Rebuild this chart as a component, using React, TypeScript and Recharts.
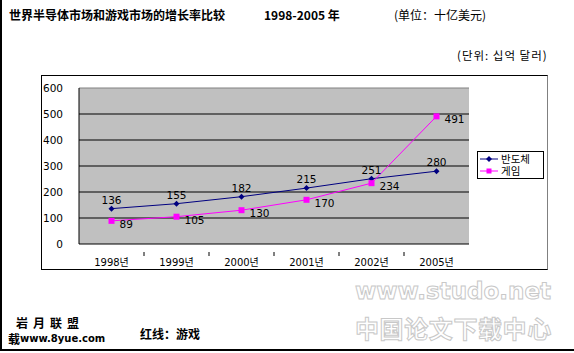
import { CartesianGrid, LabelList, Line, LineChart, ReferenceLine, XAxis, YAxis } from "recharts";

const years = ["1998년", "1999년", "2000년", "2001년", "2002년", "2005년"];
const semiconductor = [136, 155, 182, 215, 251, 280];
const game = [89, 105, 130, 170, 234, 491];
const yTicks = [0, 100, 200, 300, 400, 500, 600];

const data = years.map((year, i) => ({ year, semi: semiconductor[i], game: game[i] }));

const NAVY = "#000080";
const MAGENTA = "#ff00ff";
const chartFont = "'DejaVu Sans', 'Noto Sans CJK KR', sans-serif";

// half a category band: points sit mid-band, separator ticks sit between years
const plotWidth = 390;
const halfBand = plotWidth / years.length / 2;

function Diamond(props: any) {
  const { cx, cy, index } = props;
  if (cx == null || cy == null) return <g key={index} />;
  return <path key={index} d={`M${cx},${cy - 3}L${cx + 3},${cy}L${cx},${cy + 3}L${cx - 3},${cy}Z`} fill={NAVY} />;
}

function Square(props: any) {
  const { cx, cy, index } = props;
  if (cx == null || cy == null) return <g key={index} />;
  return <rect key={index} x={cx - 3} y={cy - 3} width={6} height={6} fill={MAGENTA} />;
}

function YearTick(props: any) {
  const { x, y, payload, index } = props;
  return (
    <g>
      <text x={x} y={y + 14} textAnchor="middle" fontSize={10} fill="#000" fontFamily={chartFont}>{payload.value}</text>
      {index < years.length - 1 && <line x1={x + halfBand} x2={x + halfBand} y1={y} y2={y + 4} stroke="#000" />}
    </g>
  );
}

function GameLabel(props: any) {
  const { x, y, value } = props;
  return (
    <text x={x + 8} y={y + 7} fontSize={10.5} fill="#000" fontFamily={chartFont}>{value}</text>
  );
}

function LegendBox() {
  const rows = [
    { name: "반도체", color: NAVY, marker: "diamond" },
    { name: "게임", color: MAGENTA, marker: "square" },
  ];
  return (
    <svg style={{ position: "absolute", left: 477, top: 151 }} width={67} height={28}>
      <rect x={0.5} y={0.5} width={66} height={27} fill="#fff" stroke="#000" />
      {rows.map((r, i) => {
        const cy = 8 + i * 12;
        return (
          <g key={r.name}>
            <line x1={3} x2={21} y1={cy} y2={cy} stroke={r.color} />
            {r.marker === "diamond"
              ? <path d={`M12,${cy - 3}L15,${cy}L12,${cy + 3}L9,${cy}Z`} fill={r.color} />
              : <rect x={9.5} y={cy - 2.5} width={5} height={5} fill={r.color} />}
            <text x={24} y={cy + 4} fontSize={10.5} fontFamily="'Noto Sans CJK KR'" fill="#000">{r.name}</text>
          </g>
        );
      })}
    </svg>
  );
}

const abs = (left: number, top: number, extra: React.CSSProperties = {}): React.CSSProperties => ({
  position: "absolute", left, top, whiteSpace: "nowrap", ...extra,
});

export default function App() {
  return (
    <div style={{ position: "fixed", left: 0, top: 0, width: 574, height: 353, background: "#fff", overflow: "hidden" }}>
      <div style={{ position: "absolute", left: 0, top: 0, width: 2, height: 351, background: "#000" }} />
      <div style={{ position: "absolute", left: 0, top: 349, width: 574, height: 2, background: "#000" }} />

      <div style={abs(9, 7, { fontFamily: "'Noto Sans CJK SC'", fontWeight: 700, fontSize: 12, lineHeight: "16px" })}>世界半导体市场和游戏市场的增长率比较</div>
      <div style={abs(264, 7, { fontFamily: "'Noto Sans CJK SC'", fontWeight: 700, fontSize: 12, lineHeight: "16px" })}>1998-2005 年</div>
      <div style={abs(394, 7, { fontFamily: "'Noto Sans CJK SC'", fontSize: 12, lineHeight: "16px" })}>(单位：十亿美元)</div>
      <div style={abs(457, 47, { fontFamily: "'Noto Sans CJK KR'", fontSize: 11.5, letterSpacing: 1, lineHeight: "16px" })}>(단위: 십억 달러)</div>

      <div style={{ position: "absolute", left: 41, top: 75, width: 507, height: 195, border: "1px solid #000", borderRightColor: "#808080", boxSizing: "border-box" }} />

      <div style={{ position: "absolute", left: 0, top: 0 }}>
        <LineChart width={574} height={353} data={data} margin={{ top: 88, right: 105, bottom: 89, left: 42 }}>
          <CartesianGrid vertical={false} horizontalValues={[100, 200, 300, 400, 500]} stroke="#000" fill="#c0c0c0" fillOpacity={1} />
          <ReferenceLine y={600} stroke="#808080" />
          <XAxis dataKey="year" height={20} tickLine={false} axisLine={{ stroke: "#000" }} tick={<YearTick />} interval={0} padding={{ left: halfBand, right: halfBand }} />
          <YAxis width={37} domain={[0, 600]} ticks={yTicks} tickLine={false} axisLine={{ stroke: "#000" }} tick={{ fontSize: 10.5, fill: "#000", fontFamily: chartFont }} tickMargin={10} />
          <Line type="linear" dataKey="semi" stroke={NAVY} strokeWidth={1} dot={<Diamond />} isAnimationActive={false}>
            <LabelList dataKey="semi" position="top" offset={5} fontSize={10.5} fill="#000" fontFamily={chartFont} />
          </Line>
          <Line type="linear" dataKey="game" stroke={MAGENTA} strokeWidth={1} dot={<Square />} isAnimationActive={false}>
            <LabelList dataKey="game" content={<GameLabel />} />
          </Line>
        </LineChart>
      </div>
      <LegendBox />

      <div style={abs(355, 278, { fontFamily: "'DejaVu Sans'", fontWeight: 700, fontSize: 23, color: "#fff", WebkitTextStroke: "1px #c8c8c8" })}>www.studo.net</div>
      <div style={abs(355, 310, { fontFamily: "'Noto Sans CJK SC'", fontWeight: 700, fontSize: 24, color: "#fff", WebkitTextStroke: "1px #c8c8c8", letterSpacing: 0.6 })}>中国论文下载中心</div>

      <div style={abs(16, 314, { fontFamily: "'Noto Sans CJK SC'", fontWeight: 700, fontSize: 12, letterSpacing: 5 })}>岩月联盟</div>
      <div style={abs(8, 330, { fontFamily: "'Noto Sans CJK SC'", fontWeight: 700, fontSize: 12 })}>载</div>
      <div style={abs(20, 333, { fontFamily: "'DejaVu Sans'", fontWeight: 700, fontSize: 10 })}>www.8yue.com</div>
      <div style={abs(140, 325, { fontFamily: "'Noto Sans CJK SC'", fontWeight: 700, fontSize: 12 })}>红线：游戏</div>
    </div>
  );
}
